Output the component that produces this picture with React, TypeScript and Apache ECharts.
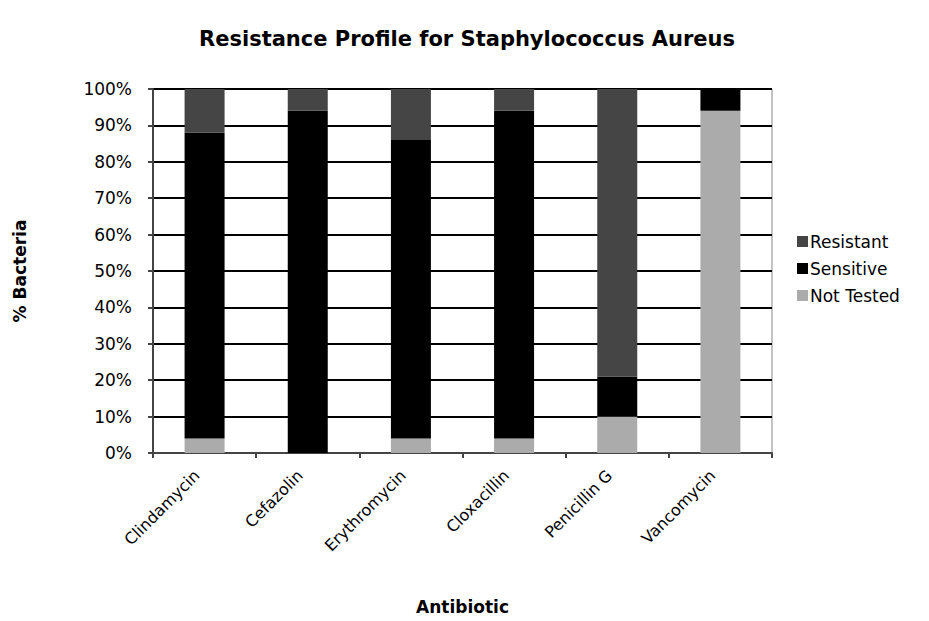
import React, { useEffect, useRef } from "react";
import * as echarts from "echarts";

const categories = ["Clindamycin", "Cefazolin", "Erythromycin", "Cloxacillin", "Penicillin G", "Vancomycin"];
const notTested = [4, 0, 4, 4, 10, 94];
const sensitive = [84, 94, 82, 90, 11, 6];
const resistant = [12, 6, 14, 6, 79, 0];
const yTicks = [0, 10, 20, 30, 40, 50, 60, 70, 80, 90, 100];

const FONT = "DejaVu Sans";

export default function App() {
  const ref = useRef<HTMLDivElement>(null);
  useEffect(() => {
    if (!ref.current) return;
    const chart = echarts.init(ref.current, null, { renderer: "svg" });
    chart.setOption({
      animation: false,
      backgroundColor: "#ffffff",
      title: {
        text: "Resistance Profile for Staphylococcus Aureus",
        left: 462,
        top: 23,
        textAlign: "center",
        textStyle: { fontFamily: FONT, fontWeight: "bold", fontSize: 21, color: "#000" },
      },
      legend: {
        orient: "vertical",
        left: 792,
        top: 228,
        itemWidth: 11,
        itemHeight: 11,
        itemGap: 10,
        icon: "rect",
        data: ["Resistant", "Sensitive", "Not Tested"],
        textStyle: { fontFamily: FONT, fontSize: 17, color: "#000", padding: [0, 0, 0, -3] },
      },
      grid: { left: 153, top: 89, right: 157, bottom: 168, show: true, borderColor: "#888", borderWidth: 1, backgroundColor: "transparent" },
      xAxis: {
        type: "category",
        data: categories,
        name: "Antibiotic",
        nameLocation: "middle",
        nameGap: 145,
        nameTextStyle: { fontFamily: FONT, fontWeight: "bold", fontSize: 17, color: "#000" },
        axisLine: { lineStyle: { color: "#444", width: 2 } },
        axisTick: { show: true, length: 5, lineStyle: { color: "#444", width: 2 } },
        axisLabel: { rotate: 45, fontFamily: FONT, fontSize: 16, color: "#000", margin: 12, padding: [0, 11, 0, 0] },
      },
      yAxis: {
        type: "value",
        min: 0,
        max: 100,
        interval: 10,
        name: "% Bacteria",
        nameLocation: "middle",
        nameGap: 125,
        nameRotate: 90,
        nameTextStyle: { fontFamily: FONT, fontWeight: "bold", fontSize: 17, color: "#000" },
        axisLine: { show: true, lineStyle: { color: "#444", width: 2 } },
        axisTick: { show: true, length: 5, lineStyle: { color: "#444", width: 2 } },
        axisLabel: {
          fontFamily: FONT,
          fontSize: 17,
          color: "#000",
          margin: 21,
          formatter: (v: number) => (yTicks.includes(v) ? v + "%" : ""),
        },
        splitLine: { show: true, lineStyle: { color: "#000", width: 2 } },
      },
      series: [
        {
          name: "Not Tested",
          type: "bar",
          stack: "total",
          data: notTested,
          barWidth: 40,
          itemStyle: { color: "#ababab" },
        },
        {
          name: "Sensitive",
          type: "bar",
          stack: "total",
          data: sensitive,
          barWidth: 40,
          itemStyle: { color: "#000000" },
        },
        {
          name: "Resistant",
          type: "bar",
          stack: "total",
          data: resistant,
          barWidth: 40,
          itemStyle: { color: "#454545" },
        },
      ],
    });
    return () => chart.dispose();
  }, []);
  return <div ref={ref} style={{ width: 929, height: 621, margin: -8 }} />;
}
